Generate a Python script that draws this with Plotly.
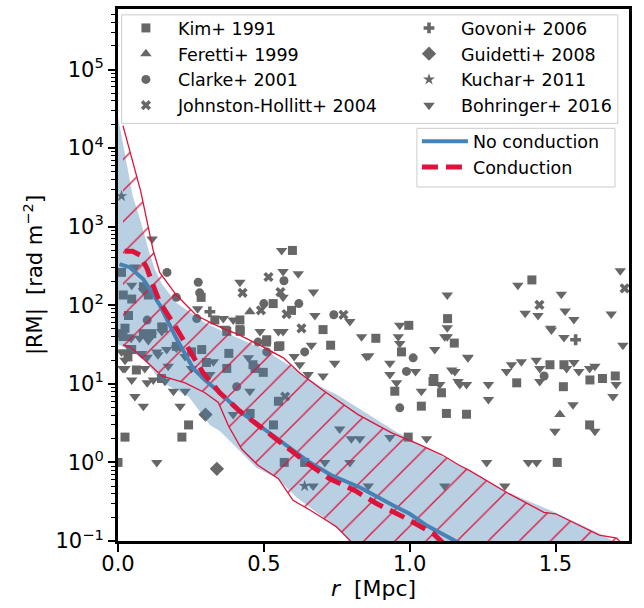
import plotly.graph_objects as go

# ---------------- scatter data (r [Mpc], |RM| [rad m^-2]) ----------------
kim_r = [0.598, 0.285, 0.532, 0.595, 0.703, 0.509, 0.555, 0.729, 0.884, 0.332, 0.418, 0.418,
         0.012, 0.087, 0.018, 0.047, 0.104, 0.036, 0.150, 0.024, 0.155, 0.017, 0.200, 0.252,
         0.034, 0.063, 0.303, 0.149, 0.000, 0.087, 0.116, 0.047, 0.287, 0.373, 0.419, 0.380,
         0.373, 0.470, 0.510, 0.550, 0.242, 0.024, 0.219, 0.000, 0.453, 0.533, 0.550, 0.570,
         0.463, 0.498, 0.640, 0.972, 0.997, 0.949, 1.040, 1.080, 1.109, 1.126, 0.995, 1.130,
         1.153, 1.083, 1.195, 1.367, 1.419, 1.481, 1.529, 1.527, 1.618, 1.661, 1.705, 1.617,
         1.506]
kim_rm = [498, 126, 105, 86, 49, 34, 30.5, 31, 38, 65, 65, 49,
          262, 172, 135, 120, 135, 74, 53, 51, 51, 40, 30, 25.5,
          22, 15, 18.7, 11.7, 43.5, 43.5, 43.5, 27.3, 27.3, 46.5, 46.5, 24.4,
          15.7, 15.7, 36.4, 29.8, 3.0, 2.1, 2.1, 1.0, 4.2, 3.0, 6.0, 1.0,
          17.5, 14.0, 1.0, 25.5, 55.5, 8.05, 5.2, 10.7, 7.7, 4.2, 2.1, 67.6,
          33, 11.7, 4.1, 10.3, 210, 17.5, 17.5, 9.2, 11.2, 11.7, 12.6, 3.0,
          1.0]

feretti_r = [0.452, 1.515]
feretti_rm = [82.6, 4.06]

clarke_r = [0.168, 0.275, 0.280, 0.200, 0.270, 0.100, 0.569, 0.620, 0.500, 0.740, 0.480,
            0.640, 0.407, 0.510, 1.012, 0.989, 0.966, 1.461]
clarke_rm = [262, 196, 144, 126, 67.6, 64.7, 205, 105, 105, 75.6, 34,
             25.5, 9.2, 25.5, 21.4, 14.4, 4.95, 12.6]

johnston_r = [0.516, 0.427, 0.557, 0.490, 0.578, 0.773, 0.629, 0.573, 1.445, 1.737]
johnston_rm = [229, 144, 147, 86.3, 77.3, 75.6, 50.8, 6.9, 101, 164]

govoni_r = [0.315, 1.569]
govoni_rm = [82.6, 36.4]

guidetti_r = [0.300, 0.339]
guidetti_rm = [4.06, 0.83]

kuchar_r = [0.012, 0.640]
kuchar_rm = [2450, 0.5]

bohringer_r = [0.117, 0.561, 0.566, 0.618, 0.418, 0.566, 0.670, 0.675, 0.795, 0.835, 0.566,
               0.663, 0.604, 0.623, 0.743, 0.860, 0.273, 0.361, 0.395, 0.366, 0.058, 0.047,
               0.087, 0.045, 0.074, 0.115, 0.040, 0.137, 0.092, 0.012, 0.017, 0.172, 0.252,
               0.315, 0.036, 0.150, 0.104, 0.024, 0.081, 0.133, 0.167, 0.024, 0.024, 0.100,
               0.200, 0.230, 0.327, 0.447, 0.487, 0.550, 0.047, 0.100, 0.121, 0.161, 0.058,
               0.087, 0.190, 0.230, 0.213, 0.133, 0.452, 0.395, 0.760, 0.800, 0.829, 0.709,
               0.795, 0.669, 0.858, 0.652, 0.703, 0.961, 0.966, 0.966, 0.852, 0.932, 0.932,
               1.020, 0.955, 1.040, 1.103, 1.086, 1.120, 1.144, 1.166, 0.932, 1.058, 1.129,
               1.129, 1.129, 1.199, 1.155, 1.172, 1.195, 1.270, 1.270, 1.200, 1.332, 1.349,
               1.383, 1.434, 1.446, 1.538, 1.563, 1.580, 1.617, 1.635, 1.446, 1.708, 1.697,
               1.560, 1.498, 1.635, 1.264, 1.407, 1.435, 1.120, 1.326, 1.486, 1.529, 1.731,
               1.722, 1.371, 1.520, 1.396, 1.440, 1.533, 1.563, 1.691, 1.483]
bohringer_rm = [695, 498, 268, 251, 196, 126, 147, 74, 62, 39.8, 46.5,
                31, 22.3, 17.5, 18.3, 22.8, 90.3, 67.6, 64.7, 50.8, 306, 180,
                154, 38, 38, 41.6, 28.5, 23.4, 15.7, 25.5, 15.7, 16.7, 15.7,
                13.1, 39.8, 46.5, 35.6, 25.5, 24.4, 25.5, 27.3, 20, 15.7, 21.8,
                28.5, 22.3, 19.1, 21.4, 46.5, 46.5, 11.2, 10.3, 11.2, 10.8, 6.9,
                5.2, 8.05, 8.05, 5.2, 1.0, 8.05, 4.06, 2.66, 2.0, 2.0, 1.0,
                1.0, 0.5, 0.5, 13.1, 12.6, 39.8, 32.6, 55.5, 22.3, 18.3, 13.1,
                14.4, 10.3, 8.05, 9.8, 27.3, 39.8, 15, 10.7, 2.08, 2.0, 135,
                51.9, 39.8, 21.8, 14.4, 9.8, 9.8, 9.8, 6.3, 21.4, 14.4, 17.5,
                19.1, 20, 15.7, 15.7, 18.7, 14.4, 15.7, 16.7, 10.7, 9.8, 6.9,
                5.4, 2.5, 2.5, 1.0, 1.0, 1.0, 0.5, 0.5, 48.6, 38.9, 31,
                274, 180, 138, 79, 74, 84.5, 66, 77.3, 50.8]

# ---------------- model curves ----------------
noc_r = [0.005, 0.04, 0.087, 0.143, 0.2, 0.258, 0.3, 0.35, 0.417, 0.5, 0.578, 0.652,
         0.73, 0.83, 0.944, 1.0, 1.06, 1.13, 1.18]
noc_rm = [334, 305, 214, 101, 38, 15.7, 11, 7.7, 4.5, 2.66, 1.63, 1.03,
          0.69, 0.48, 0.283, 0.222, 0.156, 0.114, 0.09]

cond_r = [0.023, 0.05, 0.075, 0.1, 0.12, 0.143, 0.194, 0.24, 0.292, 0.349, 0.417, 0.498,
          0.578, 0.652, 0.726, 0.812, 0.886, 0.978, 1.08, 1.12]
cond_rm = [486, 486, 436, 292, 180, 110, 55.5, 28.5, 13.7, 7.7, 4.5, 2.66,
           1.56, 0.96, 0.62, 0.44, 0.30, 0.203, 0.125, 0.09]

# No conduction range (filled band)
noc_up_r = [0.0, 0.02, 0.035, 0.05, 0.08, 0.105, 0.126, 0.15, 0.2, 0.3, 0.4, 0.5, 0.6,
            0.7, 0.75, 0.846, 0.95, 1.06, 1.2, 1.34, 1.5, 1.65, 1.72]
noc_up_rm = [25000, 10000, 5000, 2500, 1100, 500, 290, 188, 108, 59, 40, 27.3, 16.0,
             9.0, 7.3, 4.4, 2.5, 1.5, 0.80, 0.41, 0.23, 0.125, 0.09]
noc_lo_r = [0.0, 0.05, 0.1, 0.15, 0.242, 0.315, 0.35, 0.43, 0.475, 0.543, 0.612, 0.703,
            0.772, 0.8]
noc_lo_rm = [31.8, 25.5, 18.3, 10.5, 6.9, 3.0, 2.5, 1.26, 0.85, 0.64, 0.36, 0.2,
             0.123, 0.089]

# Conduction range (hatched band)
cond_up_r = [0.017, 0.078, 0.12, 0.143, 0.2, 0.269, 0.337, 0.417, 0.486, 0.567, 0.623,
             0.70, 0.823, 0.938, 1.03, 1.11, 1.17, 1.206, 1.34, 1.46, 1.5, 1.65, 1.71, 1.73]
cond_up_rm = [19300, 2820, 510, 262, 135, 74, 55.5, 41.6, 31.1, 21.4, 13.7,
              8.4, 4.06, 2.38, 1.71, 1.25, 0.92, 0.785, 0.40, 0.232, 0.222, 0.119, 0.109, 0.0895]
cond_lo_r = [0.017, 0.04, 0.093, 0.15, 0.23, 0.298, 0.344, 0.379, 0.424, 0.48, 0.55, 0.6,
             0.658, 0.749, 0.795, 0.82]
cond_lo_rm = [31.2, 29.8, 20, 12.6, 10.3, 7.7, 5.8, 2.9, 1.48, 0.92, 0.62, 0.33,
              0.248, 0.152, 0.102, 0.079]

y_tick_vals = [1e-1, 1e0, 1e1, 1e2, 1e3, 1e4, 1e5]
y_tick_text = ["10<sup>\u22121</sup>", "10<sup>0</sup>", "10<sup>1</sup>", "10<sup>2</sup>",
               "10<sup>3</sup>", "10<sup>4</sup>", "10<sup>5</sup>"]
x_tick_vals = [0.0, 0.5, 1.0, 1.5]
x_tick_text = ["0.0", "0.5", "1.0", "1.5"]

MC = "#676767"
fig = go.Figure()

datasets = [
    ("Kim+ 1991", kim_r, kim_rm, "square", 9, "legend"),
    ("Feretti+ 1999", feretti_r, feretti_rm, "triangle-up", 10, "legend"),
    ("Clarke+ 2001", clarke_r, clarke_rm, "circle", 9, "legend"),
    ("Johnston-Hollitt+ 2004", johnston_r, johnston_rm, "x", 9, "legend"),
    ("Govoni+ 2006", govoni_r, govoni_rm, "cross", 9, "legend3"),
    ("Guidetti+ 2008", guidetti_r, guidetti_rm, "diamond", 11, "legend3"),
    ("Kuchar+ 2011", kuchar_r, kuchar_rm, "star", 9, "legend3"),
    ("Bohringer+ 2016", bohringer_r, bohringer_rm, "triangle-down", 10, "legend3"),
]
for name, xs, ys, sym, sz, lg in datasets:
    fig.add_trace(go.Scatter(x=xs, y=ys, mode="markers", name=name, legend=lg,
                             marker=dict(symbol=sym, size=sz, color=MC, line=dict(width=0))))

# bands
fig.add_trace(go.Scatter(x=noc_up_r + noc_lo_r[::-1], y=noc_up_rm + noc_lo_rm[::-1],
                         mode="lines", fill="toself", fillcolor="rgba(70,130,180,0.38)",
                         line=dict(width=0), showlegend=False, hoverinfo="skip"))
fig.add_trace(go.Scatter(x=cond_up_r + cond_lo_r[::-1], y=cond_up_rm + cond_lo_rm[::-1],
                         mode="lines", fill="toself", fillcolor="rgba(0,0,0,0)",
                         fillpattern=dict(shape="/", fgcolor="crimson", fgopacity=1,
                                          bgcolor="rgba(0,0,0,0)", size=22, solidity=0.06),
                         line=dict(color="crimson", width=1.3), showlegend=False, hoverinfo="skip"))

# lines
fig.add_trace(go.Scatter(x=noc_r, y=noc_rm, mode="lines", name="No conduction", legend="legend2",
                         line=dict(color="#4682B4", width=4)))
fig.add_trace(go.Scatter(x=cond_r, y=cond_rm, mode="lines", name="Conduction", legend="legend2",
                         line=dict(color="crimson", width=5, dash="16px,8px")))

minor_vals = [m * 10 ** k for k in range(-1, 6) for m in range(2, 10)]

fig.update_xaxes(range=[0, 1.752], tickvals=x_tick_vals, ticktext=x_tick_text,
                 ticks="outside", ticklen=8, tickwidth=1.5, tickcolor="black",
                 ticklabelstandoff=-6,
                 showline=True, linecolor="black", linewidth=3, mirror=True,
                 showgrid=False, zeroline=False, tickfont=dict(size=21),
                 title=dict(text="<i>r</i>  [Mpc]", font=dict(size=22), standoff=2))
fig.update_yaxes(type="log", range=[-1, 5.77], tickvals=y_tick_vals, ticktext=y_tick_text,
                 ticks="outside", ticklen=7, tickwidth=1.5, tickcolor="black",
                 minor=dict(tickmode="array", tickvals=minor_vals, ticks="outside", ticklen=4,
                            tickwidth=1, tickcolor="black", showgrid=False),
                 showline=True, linecolor="black", linewidth=3, mirror=True,
                 showgrid=False, zeroline=False, tickfont=dict(size=21),
                 title=dict(text="|RM|  [rad m<sup>\u22122</sup>]", font=dict(size=21), standoff=8))

fig.update_layout(
    width=644, height=608,
    margin=dict(l=118, r=15, t=6, b=67),
    plot_bgcolor="white", paper_bgcolor="white",
    font=dict(family="DejaVu Sans", color="black"),
    showlegend=True,
    legend=dict(x=-0.008, y=0.998, xanchor="left", yanchor="top", bgcolor="rgba(0,0,0,0)",
                borderwidth=0, font=dict(size=17.5), itemwidth=54, tracegroupgap=0),
    legend3=dict(x=0.546, y=0.998, xanchor="left", yanchor="top", bgcolor="rgba(0,0,0,0)",
                 borderwidth=0, font=dict(size=17.5), itemwidth=54, tracegroupgap=0),
    legend2=dict(x=0.585, y=0.785, xanchor="left", yanchor="top", bgcolor="rgba(0,0,0,0)",
                 borderwidth=0, font=dict(size=17.5), itemwidth=46),
    shapes=[dict(type="rect", xref="paper", yref="paper", x0=0.0072, x1=0.978, y0=0.785, y1=0.989,
                 fillcolor="rgba(255,255,255,0.8)", line=dict(color="#cccccc", width=1),
                 layer="above"),
            dict(type="rect", xref="paper", yref="paper", x0=0.585, x1=0.9726, y0=0.6654, y1=0.7757,
                 fillcolor="rgba(255,255,255,0.8)", line=dict(color="#cccccc", width=1),
                 layer="above")],
)

fig.write_html("out.html", config={"displayModeBar": False},
               post_script="document.body.style.margin='0';")
